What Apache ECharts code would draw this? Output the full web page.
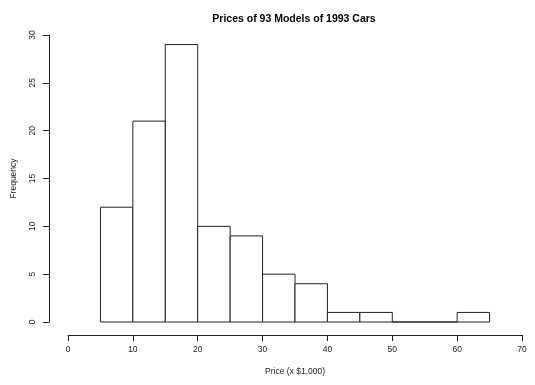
<!DOCTYPE html>
<html>
<head>
<meta charset="utf-8">
<script src="https://cdn.jsdelivr.net/npm/echarts@6/dist/echarts.min.js"></script>
<style>
html,body{margin:0;padding:0;background:#fff;}
#chart{width:535px;height:385px;}
</style>
</head>
<body>
<div id="chart"></div>
<script>
var binStarts = [5, 10, 15, 20, 25, 30, 35, 40, 45, 50, 55, 60];
var binEnds   = [10, 15, 20, 25, 30, 35, 40, 45, 50, 55, 60, 65];
var counts    = [12, 21, 29, 10, 9, 5, 4, 1, 1, 0, 0, 1];
var xTicks = [0, 10, 20, 30, 40, 50, 60, 70];
var yTicks = [0, 5, 10, 15, 20, 25, 30];

var data = binStarts.map(function (s, i) { return [s, binEnds[i], counts[i]]; });
var font = 'Liberation Sans, Arial, sans-serif';
var ink = '#222';

var chart = echarts.init(document.getElementById('chart'), null, {renderer: 'canvas'});
chart.setOption({
  animation: false,
  backgroundColor: '#fff',
  title: {
    text: 'Prices of 93 Models of 1993 Cars',
    left: 289, top: 9, textAlign: 'center',
    textStyle: {fontFamily: font, fontWeight: 'bold', fontSize: 10.5, color: '#000'}
  },
  grid: {left: 68, right: 13, top: 35, bottom: 63},
  xAxis: {
    type: 'value', min: 0, max: 70, interval: 10, offset: 13,
    name: 'Price (x $1,000)', nameLocation: 'middle', nameGap: 32,
    nameTextStyle: {fontFamily: font, fontSize: 8.5, color: ink},
    axisLine: {show: true, onZero: false, lineStyle: {color: ink, width: 1}},
    axisTick: {show: true, length: 6, lineStyle: {color: ink}},
    axisLabel: {fontFamily: font, fontSize: 8.5, color: ink, margin: 10,
      customValues: xTicks},
    splitLine: {show: false}
  },
  yAxis: {
    type: 'value', min: 0, max: 30, interval: 5, offset: 19,
    name: 'Frequency', nameLocation: 'middle', nameGap: 31, nameRotate: 90,
    nameTextStyle: {fontFamily: font, fontSize: 8.5, color: ink},
    axisLine: {show: true, onZero: false, lineStyle: {color: ink, width: 1}},
    axisTick: {show: true, length: 6, lineStyle: {color: ink}},
    axisLabel: {fontFamily: font, fontSize: 8.5, color: ink, margin: 12, rotate: 90,
      customValues: yTicks},
    splitLine: {show: false}
  },
  series: [{
    type: 'custom',
    data: data,
    encode: {x: [0, 1], y: 2},
    renderItem: function (params, api) {
      var p0 = api.coord([api.value(0), 0]);
      var p1 = api.coord([api.value(1), api.value(2)]);
      return {
        type: 'rect',
        shape: {x: p0[0], y: p1[1], width: p1[0] - p0[0], height: p0[1] - p1[1]},
        style: {fill: '#fff', stroke: ink, lineWidth: 1}
      };
    }
  }]
});
</script>
</body>
</html>
